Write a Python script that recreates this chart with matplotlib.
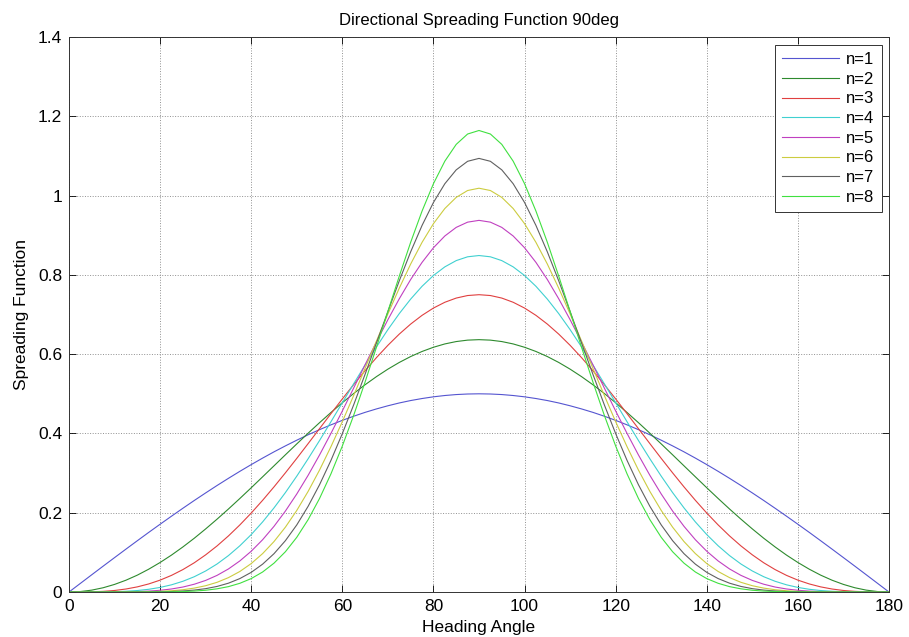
import numpy as np
import matplotlib.pyplot as plt

plt.rcParams['font.family'] = ['Liberation Sans', 'DejaVu Sans']

# heading angle (deg), 2.5 deg steps
angle = np.arange(0, 180.1, 2.5)

# spreading function, one list per n
n1 = [0, 0.0218, 0.0436, 0.0653, 0.0868, 0.1082, 0.1294, 0.1504, 0.1710, 0.1913, 0.2113, 0.2309, 0.2500,
      0.2687, 0.2868, 0.3044, 0.3214, 0.3378, 0.3536, 0.3686, 0.3830, 0.3967, 0.4096, 0.4217, 0.4330,
      0.4435, 0.4532, 0.4619, 0.4698, 0.4769, 0.4830, 0.4881, 0.4924, 0.4957, 0.4981, 0.4995, 0.5000,
      0.4995, 0.4981, 0.4957, 0.4924, 0.4881, 0.4830, 0.4769, 0.4698, 0.4619, 0.4532, 0.4435, 0.4330,
      0.4217, 0.4096, 0.3967, 0.3830, 0.3686, 0.3536, 0.3378, 0.3214, 0.3044, 0.2868, 0.2687, 0.2500,
      0.2309, 0.2113, 0.1913, 0.1710, 0.1504, 0.1294, 0.1082, 0.0868, 0.0653, 0.0436, 0.0218, 0]
n2 = [0, 0.0012, 0.0048, 0.0108, 0.0192, 0.0298, 0.0426, 0.0576, 0.0745, 0.0932, 0.1137, 0.1357, 0.1592,
      0.1838, 0.2094, 0.2359, 0.2630, 0.2906, 0.3183, 0.3461, 0.3736, 0.4007, 0.4272, 0.4528, 0.4775,
      0.5009, 0.5229, 0.5434, 0.5622, 0.5791, 0.5940, 0.6068, 0.6174, 0.6258, 0.6318, 0.6354, 0.6366,
      0.6354, 0.6318, 0.6258, 0.6174, 0.6068, 0.5940, 0.5791, 0.5622, 0.5434, 0.5229, 0.5009, 0.4775,
      0.4528, 0.4272, 0.4007, 0.3736, 0.3461, 0.3183, 0.2906, 0.2630, 0.2359, 0.2094, 0.1838, 0.1592,
      0.1357, 0.1137, 0.0932, 0.0745, 0.0576, 0.0426, 0.0298, 0.0192, 0.0108, 0.0048, 0.0012, 0]
n3 = [0, 0.0001, 0.0005, 0.0017, 0.0039, 0.0076, 0.0130, 0.0204, 0.0300, 0.0420, 0.0566, 0.0738, 0.0938,
      0.1163, 0.1415, 0.1692, 0.1992, 0.2313, 0.2652, 0.3006, 0.3371, 0.3745, 0.4122, 0.4499, 0.4871,
      0.5234, 0.5583, 0.5914, 0.6223, 0.6506, 0.6759, 0.6979, 0.7163, 0.7309, 0.7415, 0.7479, 0.7500,
      0.7479, 0.7415, 0.7309, 0.7163, 0.6979, 0.6759, 0.6506, 0.6223, 0.5914, 0.5583, 0.5234, 0.4871,
      0.4499, 0.4122, 0.3745, 0.3371, 0.3006, 0.2652, 0.2313, 0.1992, 0.1692, 0.1415, 0.1163, 0.0938,
      0.0738, 0.0566, 0.0420, 0.0300, 0.0204, 0.0130, 0.0076, 0.0039, 0.0017, 0.0005, 0.0001, 0]
n4 = [0, 0.0000, 0.0000, 0.0002, 0.0008, 0.0019, 0.0038, 0.0069, 0.0116, 0.0182, 0.0271, 0.0386, 0.0531,
      0.0707, 0.0919, 0.1166, 0.1449, 0.1768, 0.2122, 0.2508, 0.2923, 0.3363, 0.3822, 0.4295, 0.4775,
      0.5255, 0.5727, 0.6184, 0.6619, 0.7023, 0.7389, 0.7712, 0.7984, 0.8202, 0.8360, 0.8456, 0.8488,
      0.8456, 0.8360, 0.8202, 0.7984, 0.7712, 0.7389, 0.7023, 0.6619, 0.6184, 0.5727, 0.5255, 0.4775,
      0.4295, 0.3822, 0.3363, 0.2923, 0.2508, 0.2122, 0.1768, 0.1449, 0.1166, 0.0919, 0.0707, 0.0531,
      0.0386, 0.0271, 0.0182, 0.0116, 0.0069, 0.0038, 0.0019, 0.0008, 0.0002, 0.0000, 0.0000, 0]
n5 = [0, 0.0000, 0.0000, 0.0000, 0.0001, 0.0004, 0.0011, 0.0023, 0.0044, 0.0077, 0.0126, 0.0197, 0.0293,
      0.0420, 0.0582, 0.0784, 0.1029, 0.1319, 0.1657, 0.2042, 0.2473, 0.2946, 0.3458, 0.4001, 0.4567,
      0.5148, 0.5733, 0.6310, 0.6869, 0.7397, 0.7883, 0.8315, 0.8684, 0.8981, 0.9198, 0.9330, 0.9375,
      0.9330, 0.9198, 0.8981, 0.8684, 0.8315, 0.7883, 0.7397, 0.6869, 0.6310, 0.5733, 0.5148, 0.4567,
      0.4001, 0.3458, 0.2946, 0.2473, 0.2042, 0.1657, 0.1319, 0.1029, 0.0784, 0.0582, 0.0420, 0.0293,
      0.0197, 0.0126, 0.0077, 0.0044, 0.0023, 0.0011, 0.0004, 0.0001, 0.0000, 0.0000, 0.0000, 0]
n6 = [0, 0.0000, 0.0000, 0.0000, 0.0000, 0.0001, 0.0003, 0.0008, 0.0016, 0.0032, 0.0058, 0.0099, 0.0159,
      0.0245, 0.0363, 0.0518, 0.0718, 0.0969, 0.1273, 0.1636, 0.2058, 0.2540, 0.3077, 0.3666, 0.4297,
      0.4961, 0.5645, 0.6334, 0.7013, 0.7665, 0.8273, 0.8820, 0.9292, 0.9674, 0.9955, 1.0128, 1.0186,
      1.0128, 0.9955, 0.9674, 0.9292, 0.8820, 0.8273, 0.7665, 0.7013, 0.6334, 0.5645, 0.4961, 0.4297,
      0.3666, 0.3077, 0.2540, 0.2058, 0.1636, 0.1273, 0.0969, 0.0718, 0.0518, 0.0363, 0.0245, 0.0159,
      0.0099, 0.0058, 0.0032, 0.0016, 0.0008, 0.0003, 0.0001, 0.0000, 0.0000, 0.0000, 0.0000, 0]
n7 = [0, 0.0000, 0.0000, 0.0000, 0.0000, 0.0000, 0.0001, 0.0002, 0.0006, 0.0013, 0.0026, 0.0049, 0.0085,
      0.0141, 0.0223, 0.0339, 0.0496, 0.0703, 0.0967, 0.1295, 0.1693, 0.2164, 0.2707, 0.3320, 0.3996,
      0.4725, 0.5494, 0.6284, 0.7076, 0.7850, 0.8581, 0.9247, 0.9826, 1.0299, 1.0649, 1.0865, 1.0938,
      1.0865, 1.0649, 1.0299, 0.9826, 0.9247, 0.8581, 0.7850, 0.7076, 0.6284, 0.5494, 0.4725, 0.3996,
      0.3320, 0.2707, 0.2164, 0.1693, 0.1295, 0.0967, 0.0703, 0.0496, 0.0339, 0.0223, 0.0141, 0.0085,
      0.0049, 0.0026, 0.0013, 0.0006, 0.0002, 0.0001, 0.0000, 0.0000, 0.0000, 0.0000, 0.0000, 0]
n8 = [0, 0.0000, 0.0000, 0.0000, 0.0000, 0.0000, 0.0000, 0.0001, 0.0002, 0.0005, 0.0012, 0.0024, 0.0045,
      0.0081, 0.0136, 0.0220, 0.0339, 0.0505, 0.0728, 0.1016, 0.1380, 0.1827, 0.2360, 0.2980, 0.3683,
      0.4461, 0.5299, 0.6179, 0.7078, 0.7968, 0.8822, 0.9609, 1.0300, 1.0868, 1.1292, 1.1553, 1.1642,
      1.1553, 1.1292, 1.0868, 1.0300, 0.9609, 0.8822, 0.7968, 0.7078, 0.6179, 0.5299, 0.4461, 0.3683,
      0.2980, 0.2360, 0.1827, 0.1380, 0.1016, 0.0728, 0.0505, 0.0339, 0.0220, 0.0136, 0.0081, 0.0045,
      0.0024, 0.0012, 0.0005, 0.0002, 0.0001, 0.0000, 0.0000, 0.0000, 0.0000, 0.0000, 0.0000, 0]
series = [n1, n2, n3, n4, n5, n6, n7, n8]
labels = ['n=1', 'n=2', 'n=3', 'n=4', 'n=5', 'n=6', 'n=7', 'n=8']
colors = ['#5555d0', '#2e8a2e', '#e04040', '#40d0d0', '#c040c0', '#cccc40', '#606060', '#40e040']

fig = plt.figure(figsize=(9.09, 6.37), dpi=100)
ax = fig.add_axes([0.0759, 0.0706, 0.9021, 0.8713])

for y, lab, c in zip(series, labels, colors):
    ax.plot(angle, y, color=c, linewidth=0.8, label=lab)

ax.set_xlim(0, 180)
ax.set_ylim(0, 1.4)
ax.set_xticks(np.arange(0, 181, 20))
ax.set_yticks([0, 0.2, 0.4, 0.6, 0.8, 1, 1.2, 1.4])
ax.set_yticklabels(['0', '0.2', '0.4', '0.6', '0.8', '1', '1.2', '1.4'])
ax.tick_params(direction='in', labelsize=12.5, length=5, top=True, right=True, width=0.6, pad=5)
ax.grid(True, linestyle=':', color='#909090', linewidth=0.7)
for sp in ax.spines.values():
    sp.set_linewidth(0.7)
    sp.set_color('#333333')

ax.set_title('Directional Spreading Function 90deg', fontsize=12, pad=9)
ax.set_xlabel('Heading Angle', fontsize=12.5, labelpad=4)
ax.set_ylabel('Spreading Function', fontsize=12.5, labelpad=6)

leg = ax.legend(loc='upper right', fontsize=12, handlelength=3.4, handletextpad=0.4,
                labelspacing=0.28, fancybox=False, framealpha=1, edgecolor='#333333',
                borderaxespad=0.45, borderpad=0.45)
leg.get_frame().set_linewidth(0.7)

fig.savefig('out.png', dpi=100)
